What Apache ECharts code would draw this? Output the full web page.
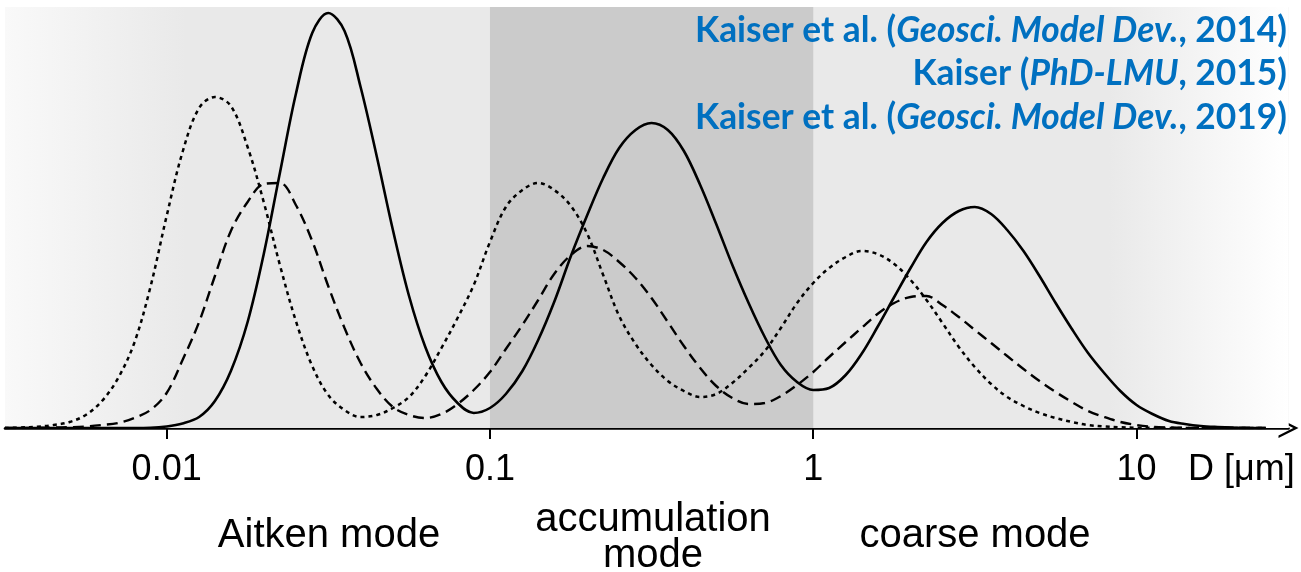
<!DOCTYPE html>
<html>
<head>
<meta charset="utf-8">
<script src="https://cdn.jsdelivr.net/npm/echarts@6/dist/echarts.min.js"></script>
<style>
  html, body { margin: 0; padding: 0; background: #ffffff; }
  #chart { width: 1301px; height: 572px; }
</style>
</head>
<body>
<div id="chart"></div>
<script>
// Particle diameter D [µm], sampled every 0.05 decade from 10^-2.5 to 10^1.4
const diameters = [
  0.00316, 0.00355, 0.00398, 0.00447, 0.00501, 0.00562, 0.00631, 0.00708, 0.00794, 0.00891,
  0.0100, 0.0112, 0.0126, 0.0141, 0.0158, 0.0178, 0.0200, 0.0224, 0.0251, 0.0282,
  0.0316, 0.0355, 0.0398, 0.0447, 0.0501, 0.0562, 0.0631, 0.0708, 0.0794, 0.0891,
  0.100, 0.112, 0.126, 0.141, 0.158, 0.178, 0.200, 0.224, 0.251, 0.282,
  0.316, 0.355, 0.398, 0.447, 0.501, 0.562, 0.631, 0.708, 0.794, 0.891,
  1.00, 1.12, 1.26, 1.41, 1.58, 1.78, 2.00, 2.24, 2.51, 2.82,
  3.16, 3.55, 3.98, 4.47, 5.01, 5.62, 6.31, 7.08, 7.94, 8.91,
  10.0, 11.2, 12.6, 14.1, 15.8, 17.8, 20.0, 22.4, 25.1
];

// Number distributions (arbitrary units) of the three size-distribution curves
const solidCurve = [
  0, 0, 0, 0, 0, 0, 0, 0, 0, 0.2,
  1.5, 4.5, 11, 27, 57, 106, 175, 255, 334, 395,
  415, 397, 341, 271, 198, 132, 81, 46, 25, 15,
  20, 34, 57, 88, 126, 172, 213, 250, 280, 298,
  305, 298, 277, 243, 204, 163, 125, 91, 63, 46,
  38, 40, 53, 74, 101, 131, 160, 186, 205, 217,
  221, 214, 198, 177, 152, 125, 99, 75, 55, 37,
  23, 14, 7, 4, 2, 1, 0.4, 0.1, 0
];

const dashedCurve = [
  0, 0, 0.2, 0.4, 0.8, 1.5, 3, 5, 10, 18,
  35, 68, 106, 152, 197, 226, 244, 245, 223, 187,
  142, 100, 65, 39, 21, 13, 10, 14, 24, 38,
  56, 79, 103, 128, 154, 173, 182, 178, 166, 150,
  130, 106, 82, 60, 42, 30, 24, 25, 32, 43,
  56, 71, 86, 100, 114, 125, 131, 132, 123, 111,
  98, 85, 72, 59, 47, 36, 26, 17, 11, 6,
  3, 1.2, 0.5, 0.2, 0, 0, 0, 0, 0
];

const dottedCurve = [
  0, 0.5, 1.3, 3, 6, 13, 27, 50, 85, 141,
  212, 276, 320, 331, 322, 281, 225, 163, 107, 62,
  33, 18, 11, 13, 20, 31, 52, 80, 110, 143,
  186, 221, 238, 245, 238, 222, 194, 153, 112, 84,
  63, 47, 37, 31, 34, 45, 60, 77, 100, 125,
  145, 160, 171, 177, 174, 164, 148, 128, 105, 81,
  61, 44, 31, 22, 15, 10, 6, 3, 1.5, 0.7,
  0.3, 0.1, 0, 0, 0, 0, 0, 0, 0
];

// Decade ticks of the diameter axis
const tickValues = [0.01, 0.1, 1, 10];
const tickLabels = ['0.01', '0.1', '1', '10'];

// Size ranges of the modes (shaded bands) and their names
const modeEdges = [0.01, 0.1, 1];
const modeNames = ['Aitken mode', 'accumulation\nmode', 'coarse mode'];

// References, each line: upright part, italic journal, upright year
const citeLines = [
  ['Kaiser et al. (', 'Geosci. Model Dev.', ', 2014)'],
  ['Kaiser (', 'PhD-LMU', ', 2015)'],
  ['Kaiser et al. (', 'Geosci. Model Dev.', ', 2019)']
];

const X_MIN = Math.pow(10, -2.5);
const X_MAX = Math.pow(10, 1.47);
const LIGHT = '#e9e9e9';
const DARK = '#cbcbcb';
const BLUE = '#0070c0';
const SANS = '"Liberation Sans", Arial, Helvetica, sans-serif';

const chart = echarts.init(document.getElementById('chart'), null, { renderer: 'canvas' });

const pairs = arr => diameters.map((d, i) => [d, arr[i]]);

const fade = (from, to) => new echarts.graphic.LinearGradient(0, 0, 1, 0, [
  { offset: 0, color: from }, { offset: 1, color: to }
]);

// Background: one light band over the whole range, with the accumulation
// band and the two faded ends laid on top of it
const bands = [
  [{ xAxis: X_MIN, itemStyle: { color: LIGHT } }, { xAxis: X_MAX }],
  [{ xAxis: X_MIN, itemStyle: { color: fade('#f9f9f9', LIGHT) } }, { xAxis: 0.0115 }],
  [{ xAxis: modeEdges[1], itemStyle: { color: DARK } }, { xAxis: modeEdges[2] }],
  [{ xAxis: 8.2, itemStyle: { color: fade(LIGHT, '#ffffff') } }, { xAxis: X_MAX }]
];

// Reference lines: bold upright and bold italic runs, set right-aligned
const CITE_SIZE = 36;
const CITE_RIGHT = 1287;
const ctx = document.createElement('canvas').getContext('2d');
const runFont = italic => (italic ? 'italic ' : '') + 'bold ' + CITE_SIZE + 'px Lato';
function runWidth(text, italic) {
  ctx.font = runFont(italic);
  return ctx.measureText(text).width;
}
const lineWidth = parts => runWidth(parts[0], false) + runWidth(parts[1], true) + runWidth(parts[2], false);
let citeScale = 592 / lineWidth(citeLines[0]);
if (!isFinite(citeScale) || citeScale <= 0) citeScale = 1;

const citeGraphics = [];
citeLines.forEach((parts, k) => {
  let x = CITE_RIGHT - citeScale * lineWidth(parts);
  parts.forEach((run, r) => {
    const italic = r === 1;
    citeGraphics.push({
      type: 'text',
      x: x,
      y: 30 + k * 43.5,
      scaleX: citeScale,
      silent: true,
      z: 100,
      style: {
        text: run,
        align: 'left',
        verticalAlign: 'middle',
        fontFamily: 'Lato',
        fontWeight: 'bold',
        fontStyle: italic ? 'italic' : 'normal',
        fontSize: CITE_SIZE,
        fill: BLUE
      }
    });
    x += citeScale * runWidth(run, italic);
  });
});

const modeCenters = [329, 653, 975];
const modeGraphics = modeNames.map((name, k) => ({
  type: 'text',
  x: modeCenters[k],
  y: k === 1 ? 538 : 536,
  silent: true,
  z: 100,
  style: {
    text: name,
    align: 'center',
    verticalAlign: 'middle',
    fontFamily: SANS,
    fontSize: 40,
    lineHeight: 36,
    fill: '#000'
  }
}));

const lineSeries = (name, data, type, width) => ({
  name,
  type: 'line',
  data: pairs(data),
  showSymbol: false,
  smooth: 0.35,
  silent: true,
  z: 3,
  lineStyle: { color: '#000', width, type, cap: 'butt' }
});

const option = {
  animation: false,
  backgroundColor: '#ffffff',
  grid: { left: 5, right: 12.5, top: 7, bottom: 144, containLabel: false, outerBoundsMode: 'none' },
  xAxis: {
    type: 'log',
    logBase: 10,
    min: X_MIN,
    max: X_MAX,
    name: 'D [μm]',
    nameLocation: 'end',
    nameGap: -100.5,
    nameTextStyle: {
      fontFamily: SANS, fontSize: 36, color: '#000',
      align: 'left', verticalAlign: 'top', padding: [24, 0, 0, 0]
    },
    axisLine: {
      show: true,
      onZero: false,
      lineStyle: { color: '#000', width: 2.6 },
      symbol: ['none', 'path://M0,20 L10,0 L20,20 L17.4,20 L10,5.2 L2.6,20 Z'],
      symbolSize: [26, 20]
    },
    axisTick: {
      show: true,
      length: 11,
      customValues: tickValues,
      lineStyle: { color: '#000', width: 2 }
    },
    axisLabel: {
      customValues: tickValues,
      margin: 24,
      fontFamily: SANS,
      fontSize: 36,
      color: '#000',
      formatter: v => {
        const i = tickValues.findIndex(t => Math.abs(Math.log10(t) - Math.log10(v)) < 1e-6);
        return i >= 0 ? tickLabels[i] : '';
      }
    },
    splitLine: { show: false },
    minorTick: { show: false },
    minorSplitLine: { show: false }
  },
  yAxis: { type: 'value', min: 0, max: 421, show: false },
  series: [
    {
      name: 'modes',
      type: 'line',
      data: [],
      silent: true,
      z: 1,
      markArea: { silent: true, data: bands }
    },
    lineSeries('curve-dotted', dottedCurve, [4, 4], 2.5),
    lineSeries('curve-dashed', dashedCurve, [11, 6], 2.4),
    lineSeries('curve-solid', solidCurve, 'solid', 2.6)
  ],
  graphic: { elements: citeGraphics.concat(modeGraphics) }
};

chart.setOption(option);
</script>
</body>
</html>
